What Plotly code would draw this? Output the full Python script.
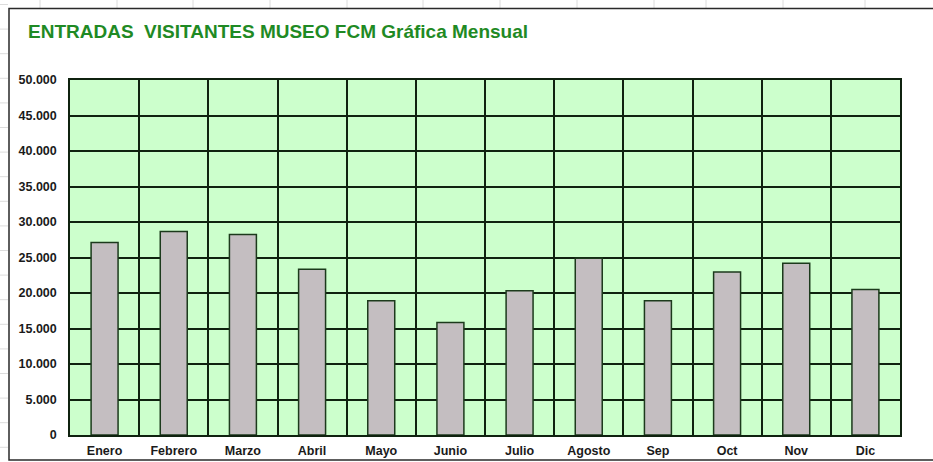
import plotly.graph_objects as go

# ---- data ----
months = ["Enero", "Febrero", "Marzo", "Abril", "Mayo", "Junio",
          "Julio", "Agosto", "Sep", "Oct", "Nov", "Dic"]
visitors = [27100, 28650, 28250, 23350, 18900, 15850,
            20300, 24900, 18900, 22950, 24200, 20500]
y_ticks = [0, 5000, 10000, 15000, 20000, 25000, 30000, 35000, 40000, 45000, 50000]
title_text = "ENTRADAS  VISITANTES MUSEO FCM Gráfica Mensual"

# ---- layout geometry (pixels) ----
W, H = 933, 462
L, R, T, B = 70, 33, 80, 27
PW, PH = W - L - R, H - T - B


def px_x(px):
    return (px - L) / PW


def px_y(py):
    return (H - B - py) / PH


fig = go.Figure()
fig.add_trace(go.Bar(
    x=months, y=visitors,
    marker=dict(color="#c4bec1", line=dict(color="#1c3a1c", width=1.5)),
    width=0.39,
    hoverinfo="x+y",
))

shapes = []
# faint spreadsheet grid lines outside the chart frame
for k in range(19):
    yy = 4.5 + 24.6 * k
    shapes.append(dict(type="line", xref="paper", yref="paper",
                       x0=px_x(0), x1=px_x(8), y0=px_y(yy), y1=px_y(yy),
                       line=dict(color="#dcdcdc", width=1), layer="below"))
for xx in [40, 117, 193, 270, 347, 423, 500, 577, 654, 706, 783, 865]:
    shapes.append(dict(type="line", xref="paper", yref="paper",
                       x0=px_x(xx), x1=px_x(xx), y0=px_y(0), y1=px_y(8),
                       line=dict(color="#dcdcdc", width=1), layer="below"))
# chart frame
shapes.append(dict(type="rect", xref="paper", yref="paper",
                   x0=px_x(9), x1=px_x(945), y0=px_y(8.5), y1=px_y(460),
                   line=dict(color="#2a2a2a", width=1.5), layer="below"))

fig.update_layout(
    width=W, height=H,
    margin=dict(l=L, r=R, t=T, b=B, pad=0, autoexpand=False),
    paper_bgcolor="white",
    plot_bgcolor="#ccffcc",
    separators=",.",
    showlegend=False,
    bargap=0.61,
    title=dict(text=title_text, xref="container", yref="container",
               x=28 / W, xanchor="left", y=1 - 31 / H, yanchor="middle",
               automargin=False,
               font=dict(family="Liberation Sans, Arial, sans-serif", size=19,
                         color="#1f8a24", weight="bold")),
    font=dict(family="Liberation Sans, Arial, sans-serif", color="#1a1a1a"),
    shapes=shapes,
)

fig.update_xaxes(
    type="category", tickson="boundaries", automargin=False,
    showgrid=True, gridcolor="#0f220f", gridwidth=1.5,
    showline=True, linecolor="#0f220f", linewidth=1.5, mirror=True,
    ticks="", ticklabelstandoff=3,
    tickfont=dict(size=12.5, weight="bold", color="#1a1a1a"),
    range=[-0.5, 11.5],
)
fig.update_yaxes(
    range=[0, 50000], tickvals=y_ticks, tickformat=",.0f", automargin=False,
    showgrid=True, gridcolor="#0f220f", gridwidth=1.5,
    showline=True, linecolor="#0f220f", linewidth=1.5, mirror=True,
    zeroline=False,
    ticks="", ticklabelstandoff=9,
    tickfont=dict(size=12.5, weight="bold", color="#1a1a1a"),
)

fig.write_html("out.html",
               config={"displayModeBar": False},
               post_script="document.body.style.margin='0';"
                           "document.body.style.overflow='hidden';")
